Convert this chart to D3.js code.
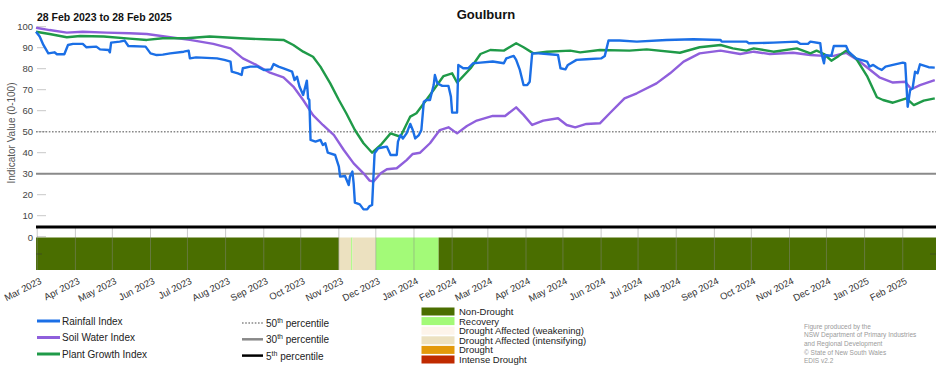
<!DOCTYPE html>
<html>
<head>
<meta charset="utf-8">
<script src="https://cdn.jsdelivr.net/npm/d3@7"></script>
<style>
  body { margin: 0; background: #fff; }
  text { font-family: "Liberation Sans", Arial, sans-serif; }
</style>
</head>
<body>
<script>
// chart data (day = days after 28 Feb 2023)
const startDate = new Date(2023, 1, 28);
const endDate = new Date(2025, 1, 28);

const rainDay = [0,3,6,10,15,17,23,26,30,38,41,49,52,59,60,61,68,72,75,89,93,98,103,109,120,124,125,130,147,153,158,159,164,167,168,174,180,185,191,193,197,201,208,210,212,214,217,220,221,222,223,227,231,233,235,237,243,246,247,251,254,255,257,258,259,263,266,269,271,273,275,278,282,285,288,293,294,296,298,301,304,306,308,311,313,315,317,320,323,324,326,330,335,337,338,342,343,347,351,355,361,371,380,382,388,390,393,394,396,399,401,403,408,415,424,426,430,432,439,447,459,462,465,474,488,512,534,556,557,577,579,599,618,621,627,629,637,638,640,641,646,648,658,660,666,675,677,680,684,687,690,696,704,706,708,710,712,714,716,718,725,730];
const rainVal = [97.6,95.3,91.3,87.3,87.8,86.9,86.9,91.3,91.8,91.8,90.2,90.5,89.2,88.9,87.8,92.4,92.9,93.4,90.8,90.5,87.3,86.5,86.7,87.3,88.1,88.6,84.9,85.4,84.9,84.2,83.4,78.6,77.8,77.0,80.2,81.0,81.0,79.4,79.7,82.2,81.0,80.2,78.6,74.6,76.2,71.5,67.5,74.3,65.9,65.1,46.1,45.3,46.1,43.7,44.5,40.0,38.9,33.4,28.6,28.9,24.6,28.6,31.0,25.4,16.2,15.4,13.0,13.0,14.6,15.1,39.7,42.1,42.6,42.9,38.9,38.9,45.3,48.4,46.8,49.2,53.7,50.8,46.8,48.4,50.8,64.3,65.1,65.1,72.2,77.0,73.0,71.8,71.8,66.7,59.1,59.1,81.8,80.2,80.2,82.6,82.9,83.4,82.6,84.9,86.1,84.2,79.4,77.0,72.2,72.2,73.8,87.3,87.3,87.0,86.5,80.2,79.7,81.8,84.2,84.5,84.9,86.1,93.4,93.4,92.9,93.7,94.0,93.7,92.9,92.9,92.1,92.4,92.9,91.8,91.8,92.9,92.1,87.3,82.6,86.5,86.1,90.8,90.8,88.1,84.9,83.4,81.0,81.8,80.2,79.4,81.0,81.8,82.9,82.6,61.9,69.9,70.7,78.6,77.8,82.1,80.7,80.5];

const soilDay = [0,11,25,38,57,76,90,109,125,144,158,168,179,190,201,209,217,225,233,242,250,258,266,271,274,280,285,293,301,306,312,320,328,335,342,350,358,371,381,390,396,403,412,424,431,438,447,458,466,478,488,504,515,526,539,556,572,583,596,615,629,640,648,658,669,685,696,706,711,718,730];
const soilVal = [99.5,98.4,97.2,97.6,97.2,96.9,96.5,95.0,93.7,91.8,89.7,84.9,81.8,78.1,75.9,71.5,65.1,57.9,53.2,48.4,41.3,34.9,30.2,26.7,26.2,30.2,32.1,32.6,36.5,39.4,40.0,44.5,50.8,52.1,49.2,52.7,55.3,57.5,57.5,61.6,58.0,53.2,55.3,56.4,53.2,52.1,53.7,54.0,58.8,65.9,68.3,73.0,77.8,83.4,87.3,88.6,87.0,88.1,87.0,87.6,86.5,86.1,86.1,87.6,83.4,75.9,73.4,73.8,70.2,72.2,74.6];

const plantDay = [0,11,25,36,55,76,90,103,122,141,166,185,201,209,217,225,231,239,246,252,259,266,273,280,288,296,304,309,320,331,338,342,353,361,369,380,390,396,404,415,434,442,458,482,496,523,539,556,566,577,583,599,618,629,634,640,646,652,658,666,675,683,688,696,707,713,721,730];
const plantVal = [97.6,96.5,95.0,95.6,95.3,94.3,93.7,94.5,94.5,95.3,94.5,94.0,93.7,91.3,88.1,85.7,81.0,73.0,65.1,58.8,50.8,44.5,40.0,43.7,49.2,47.6,57.2,58.8,67.5,76.5,77.8,73.4,80.2,87.0,88.9,88.6,92.1,90.2,87.3,88.1,88.6,87.8,88.9,88.6,89.2,87.6,90.2,91.3,89.7,88.6,89.7,88.1,89.7,87.3,88.6,87.0,83.8,86.1,88.6,84.9,76.5,66.4,65.1,63.8,65.9,62.7,64.8,65.9];

const seriesNames = ["Rainfall Index", "Soil Water Index", "Plant Growth Index"];
const seriesColors = ["#1b6fe6", "#8f5fdc", "#1f9a48"];

const yTicks = [0,10,20,30,40,50,60,70,80,90,100];
const percentileNames = ["50", "30", "5"];
const percentileVals = [50, 30, 5];

const droughtCats = ["Non-Drought", "Recovery", "Drought Affected (weakening)", "Drought Affected (intensifying)", "Drought", "Intense Drought"];
const droughtColors = ["#4a6e00", "#a3fa78", "#fdf4ea", "#ece1c0", "#e3990a", "#c02a00"];
const droughtStart = ["2023-02-28", "2023-11-01", "2023-11-11", "2023-11-12", "2023-12-01", "2024-01-21"];
const droughtState = [0, 3, 1, 3, 1, 0];

const credits = ["Figure produced by the", "NSW Department of Primary Industries", "and Regional Development", "\u00a9 State of New South Wales", "EDIS v2.2"];

const W = 952, H = 370;
const svg = d3.select("body").append("svg")
    .attr("width", W)
    .attr("height", H);

const x = d3.scaleTime().domain([startDate, endDate]).range([36, 936]);
const y = d3.scaleLinear().domain([0, 100]).range([236.7, 26.7]);
const parse = d3.timeParse("%Y-%m-%d");
const toDate = d => d3.timeDay.offset(startDate, d);

// titles
svg.append("text").attr("x", 486).attr("y", 19)
    .attr("text-anchor", "middle").attr("font-size", 13).attr("font-weight", "bold")
    .attr("fill", "#111").text("Goulburn");
svg.append("text").attr("x", 37).attr("y", 21)
    .attr("font-size", 10.5).attr("font-weight", "bold")
    .attr("fill", "#111").text("28 Feb 2023 to 28 Feb 2025");

// y axis
svg.append("text")
    .attr("transform", "translate(15,133) rotate(-90)")
    .attr("text-anchor", "middle").attr("font-size", 10).attr("fill", "#555")
    .text("Indicator Value (0-100)");

svg.selectAll(".ytick").data(yTicks).enter().append("line")
    .attr("x1", 37).attr("x2", 46)
    .attr("y1", d => y(d)).attr("y2", d => y(d))
    .attr("stroke", "#c8c8c8").attr("stroke-width", 1);
svg.selectAll(".ylab").data(yTicks).enter().append("text")
    .attr("x", 33).attr("y", d => d == 0 ? 241 : y(d) + 3.5)
    .attr("text-anchor", "end").attr("font-size", 9.5).attr("fill", "#444")
    .text(d => d);

// percentile lines
svg.append("line").attr("x1", 36).attr("x2", 936)
    .attr("y1", y(50)).attr("y2", y(50))
    .attr("stroke", "#888").attr("stroke-width", 1.6).attr("stroke-dasharray", "1.6,1.6");
svg.append("line").attr("x1", 36).attr("x2", 936)
    .attr("y1", y(30)).attr("y2", y(30))
    .attr("stroke", "#8a8a8a").attr("stroke-width", 2);

// drought band
const bandTop = 237.5, bandBot = 270;
const segs = droughtStart.map((s, i) => ({
    a: parse(s),
    b: i < droughtStart.length - 1 ? parse(droughtStart[i + 1]) : endDate,
    c: droughtColors[droughtState[i]]
}));
svg.selectAll(".seg").data(segs).enter().append("rect")
    .attr("x", d => x(d.a)).attr("width", d => x(d.b) - x(d.a))
    .attr("y", bandTop).attr("height", bandBot - bandTop)
    .attr("fill", d => d.c);

// month ticks
const months = d3.timeMonth.range(new Date(2023, 2, 1), new Date(2025, 2, 1));
svg.selectAll(".mtick").data(months).enter().append("line")
    .attr("x1", d => x(d)).attr("x2", d => x(d))
    .attr("y1", 228).attr("y2", bandBot)
    .attr("stroke", "#888").attr("stroke-opacity", 0.45).attr("stroke-width", 1);
svg.append("line").attr("x1", 36).attr("x2", 42).attr("y1", 254).attr("y2", 254)
    .attr("stroke", "#333").attr("stroke-opacity", 0.5);
svg.append("line").attr("x1", 930).attr("x2", 936).attr("y1", 254).attr("y2", 254)
    .attr("stroke", "#333").attr("stroke-opacity", 0.5);

const fmt = d3.timeFormat("%b %Y");
svg.selectAll(".mlab").data(months).enter().append("text")
    .attr("transform", d => `translate(${x(d) + 5},283) rotate(-27)`)
    .attr("text-anchor", "end").attr("font-size", 9.5).attr("fill", "#333")
    .text(d => fmt(d));

// 5th percentile line
svg.append("line").attr("x1", 36).attr("x2", 936)
    .attr("y1", 227).attr("y2", 227)
    .attr("stroke", "#000").attr("stroke-width", 3);

// index lines
const line = d3.line().x(d => x(d[0])).y(d => y(d[1]));
const series = [
    rainDay.map((d, i) => [toDate(d), rainVal[i]]),
    soilDay.map((d, i) => [toDate(d), soilVal[i]]),
    plantDay.map((d, i) => [toDate(d), plantVal[i]])
];
[1, 2, 0].forEach(k => {
    svg.append("path").datum(series[k])
        .attr("d", line)
        .attr("fill", "none")
        .attr("stroke", seriesColors[k])
        .attr("stroke-width", 2.4)
        .attr("stroke-linejoin", "round");
});

// legend: series
seriesNames.forEach((n, i) => {
    const ly = 321 + i * 16.5;
    svg.append("line").attr("x1", 37).attr("x2", 60).attr("y1", ly).attr("y2", ly)
        .attr("stroke", seriesColors[i]).attr("stroke-width", 3);
    svg.append("text").attr("x", 62).attr("y", ly + 3.5)
        .attr("font-size", 10).attr("fill", "#222").text(n);
});

// legend: percentiles
const pStyle = [
    {c: "#888", w: 1.6, dash: "1.6,1.6"},
    {c: "#888", w: 2.5, dash: null},
    {c: "#000", w: 2.5, dash: null}
];
percentileNames.forEach((p, i) => {
    const ly = 323 + i * 16.3;
    svg.append("line").attr("x1", 242).attr("x2", 263).attr("y1", ly).attr("y2", ly)
        .attr("stroke", pStyle[i].c).attr("stroke-width", pStyle[i].w)
        .attr("stroke-dasharray", pStyle[i].dash);
    const t = svg.append("text").attr("x", 266).attr("y", ly + 4)
        .attr("font-size", 10).attr("fill", "#222");
    t.append("tspan").text(p);
    t.append("tspan").attr("dy", -4).attr("font-size", 7).text("th");
    t.append("tspan").attr("dy", 4).text(" percentile");
});

// legend: drought categories
droughtCats.forEach((c, i) => {
    const ly = 307.5 + i * 9.6;
    svg.append("rect").attr("x", 421.5).attr("y", ly).attr("width", 33).attr("height", 8)
        .attr("fill", droughtColors[i]);
    svg.append("text").attr("x", 459).attr("y", ly + 7.5)
        .attr("font-size", 9.5).attr("fill", "#222").text(c);
});

// credits
credits.forEach((c, i) => {
    svg.append("text").attr("x", 804).attr("y", 328.5 + i * 8.7)
        .attr("font-size", 6.5).attr("fill", "#9a9a9a").text(c);
});
</script>
</body>
</html>
